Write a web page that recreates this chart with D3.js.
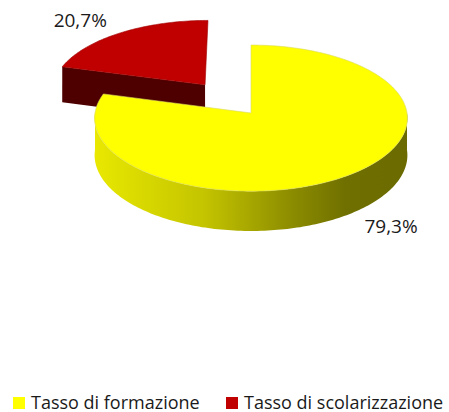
<!DOCTYPE html>
<html>
<head>
<meta charset="utf-8">
<script src="https://cdn.jsdelivr.net/npm/d3@7"></script>
<style>
  body { margin: 0; background: #fff; }
  text { font-family: "Open Sans", Lato, sans-serif; fill: #1a1a1a; }
</style>
</head>
<body>
<div id="chart"></div>
<script>
// data
var labels = ["Tasso di formazione", "Tasso di scolarizzazione"];
var values = [79.3, 20.7];
var valueLabels = ["79,3%", "20,7%"];
var explode = [0, 0.5];

var topColors = ["#ffff00", "#c00000"];
var sideColors = ["#a8a800", "#4e0000"];

var width = 449, height = 412;

// pie geometry (pseudo 3d with a bit of perspective)
var cx = 251, cy = 113, rx = 156, ry = 72.7, depth = 37, persp = 0.07;

var svg = d3.select("#chart")
  .append("svg")
    .attr("width", width)
    .attr("height", height);

var defs = svg.append("defs");
var grad = defs.append("linearGradient")
    .attr("id", "sideGrad")
    .attr("gradientUnits", "userSpaceOnUse")
    .attr("x1", cx - rx).attr("x2", cx + rx)
    .attr("y1", 0).attr("y2", 0);
[[0, "#e8e800"], [0.35, "#c4c400"], [0.62, "#8e8e00"], [0.8, "#707000"], [1, "#6a6a00"]]
  .forEach(function(s) {
    grad.append("stop").attr("offset", s[0]).attr("stop-color", s[1]);
  });

// project a point of the disk (u right, v towards viewer, h down)
function proj(u, v, h) {
  var p = 1 / (1 - persp * v);
  return [cx + rx * u * p, cy + ry * v * p + h * p];
}

var pie = d3.pie().sort(null).value(function(d) { return d; });
var arcs = pie(values).map(function(a, i) {
  var mid = (a.startAngle + a.endAngle) / 2;
  a.ox = explode[i] * Math.sin(mid);
  a.oy = -explode[i] * Math.cos(mid);
  a.mid = mid;
  a.i = i;
  return a;
});

function rim(a, ang, h) {
  return proj(a.ox + Math.sin(ang), a.oy - Math.cos(ang), h);
}

function arcPoints(a, a0, a1, h) {
  var n = Math.max(2, Math.ceil((a1 - a0) / 0.02));
  return d3.range(n + 1).map(function(k) {
    return rim(a, a0 + (a1 - a0) * k / n, h);
  });
}

var line = d3.line();

function drawSlice(a) {
  var g = svg.append("g");
  var c0 = proj(a.ox, a.oy, 0), cD = proj(a.ox, a.oy, depth);

  // radial face at start angle
  if (-Math.sin(a.startAngle) > 0.01) {
    var e0 = rim(a, a.startAngle, 0), eD = rim(a, a.startAngle, depth);
    g.append("path")
      .attr("d", line([c0, e0, eD, cD]) + "Z")
      .attr("fill", sideColors[a.i]);
  }
  // radial face at end angle
  if (Math.sin(a.endAngle) > 0.01) {
    var f0 = rim(a, a.endAngle, 0), fD = rim(a, a.endAngle, depth);
    g.append("path")
      .attr("d", line([c0, f0, fD, cD]) + "Z")
      .attr("fill", sideColors[a.i]);
  }
  // curved outer side (front half only)
  var s0 = Math.max(a.startAngle, Math.PI / 2), s1 = Math.min(a.endAngle, 3 * Math.PI / 2);
  if (s1 > s0) {
    var pts = arcPoints(a, s0, s1, 0).concat(arcPoints(a, s0, s1, depth).reverse());
    g.append("path")
      .attr("d", line(pts) + "Z")
      .attr("fill", a.i === 0 ? "url(#sideGrad)" : sideColors[a.i]);
  }
  // top face
  var topPts = [c0].concat(arcPoints(a, a.startAngle, a.endAngle, 0));
  g.append("path")
    .attr("d", line(topPts) + "Z")
    .attr("fill", topColors[a.i])
    .attr("stroke", a.i === 0 ? "#d8d860" : "#a00000")
    .attr("stroke-width", 0.6);
}

// back slice first, then the front one
drawSlice(arcs[1]);
drawSlice(arcs[0]);

// value labels
var labelOffset = [[40, 20], [-40, -6]];
arcs.forEach(function(a) {
  var h = a.i === 0 ? depth : 0;
  var p = rim(a, a.mid, h);
  svg.append("text")
    .attr("x", p[0] + labelOffset[a.i][0])
    .attr("y", p[1] + labelOffset[a.i][1])
    .attr("text-anchor", "middle")
    .attr("font-size", 19)
    .text(valueLabels[a.i]);
});

// legend
var legendX = [13, 226];
var legend = svg.selectAll(".legend")
  .data(labels)
  .enter()
  .append("g")
    .attr("class", "legend")
    .attr("transform", function(d, i) { return "translate(" + legendX[i] + ",397)"; });

legend.append("rect")
  .attr("width", 12)
  .attr("height", 12)
  .attr("fill", function(d, i) { return topColors[i]; });

legend.append("text")
  .attr("x", 18)
  .attr("y", 11.5)
  .attr("font-size", 18)
  .text(function(d) { return d; });
</script>
</body>
</html>
